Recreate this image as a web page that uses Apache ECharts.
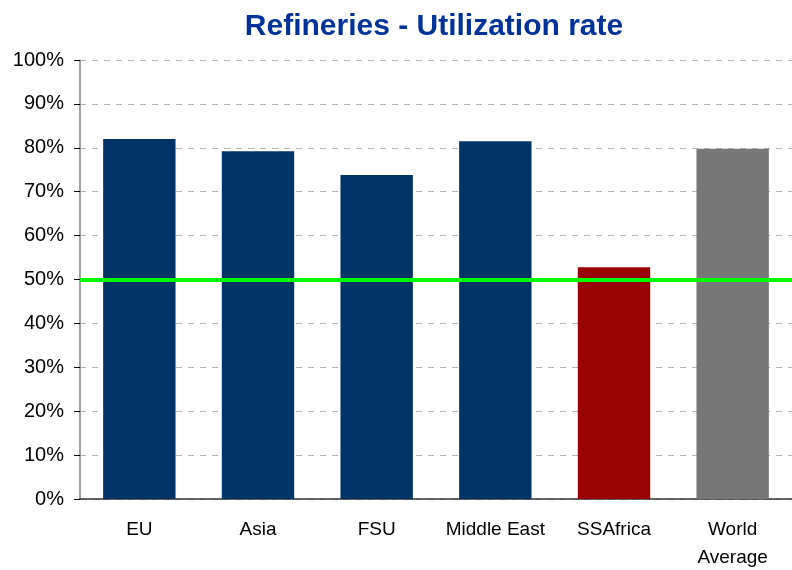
<!DOCTYPE html>
<html><head><meta charset="utf-8">
<script src="https://cdn.jsdelivr.net/npm/echarts@6/dist/echarts.min.js"></script>
<style>html,body{margin:0;padding:0;background:#fff;overflow:hidden}#c{width:792px;height:570px}</style>
</head><body><div id="c"></div>
<script>
const categories = ['EU', 'Asia', 'FSU', 'Middle East', 'SSAfrica', 'World\nAverage'];
const utilization = [82, 79.2, 73.8, 81.5, 52.8, 79.8];
const barColors = ['#003366', '#003366', '#003366', '#003366', '#990000', '#777777'];
const thresholdValue = 50;

const chart = echarts.init(document.getElementById('c'), null, {renderer: 'canvas', width: 792, height: 570});
chart.setOption({
  animation: false,
  title: {
    text: 'Refineries - Utilization rate',
    left: 429, top: 7, textAlign: 'center',
    textStyle: {fontFamily: 'Liberation Sans', fontWeight: 'bold', fontSize: 30, color: '#003399'}
  },
  grid: {left: 80, width: 712, top: 60, height: 439, containLabel: false, outerBoundsMode: 'none'},
  xAxis: {
    type: 'category', data: categories,
    axisLine: {lineStyle: {color: '#333', width: 1.5}},
    axisTick: {show: false},
    axisLabel: {interval: 0, hideOverlap: false, fontFamily: 'Liberation Sans', fontSize: 19, color: '#000', margin: 17, lineHeight: 28}
  },
  yAxis: {
    type: 'value', min: 0, max: 100, interval: 10,
    axisLine: {show: true, lineStyle: {color: '#808080', width: 1.5}},
    axisTick: {show: true, length: 6, lineStyle: {color: '#000'}},
    axisLabel: {formatter: '{value}%', fontFamily: 'Liberation Sans', fontSize: 20, color: '#000', margin: 16},
    splitLine: {lineStyle: {color: '#b4b4b4', type: [6, 6]}}
  },
  series: [{
    type: 'bar', barWidth: '61%',
    data: utilization.map((v, i) => ({value: v, itemStyle: {color: barColors[i]}})),
    markLine: {
      silent: true, symbol: 'none',
      label: {show: false},
      lineStyle: {color: '#00ff00', width: 4, type: 'solid'},
      data: [{yAxis: thresholdValue}]
    }
  }]
});
</script></body></html>
